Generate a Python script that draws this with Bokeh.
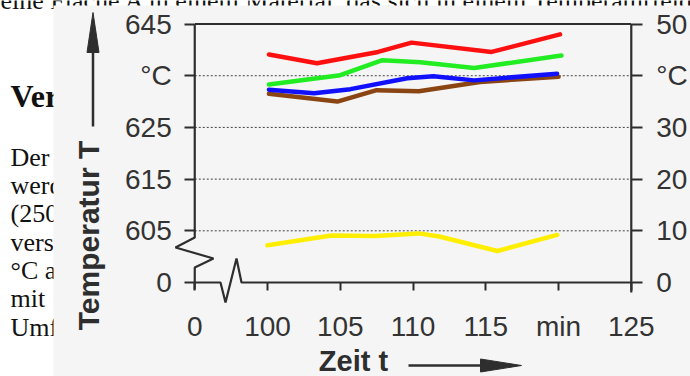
import numpy as np
from bokeh.plotting import figure
from bokeh.models import Range1d, LinearAxis, FixedTicker
from bokeh.core.properties import value
from bokeh.embed import file_html
from bokeh.resources import INLINE

# ---------------- data ----------------
# time axis (min); the first tick is labelled "0" after an axis break
x_ticks = [95, 100, 105, 110, 115, 120, 125]
x_tick_labels = ["0", "100", "105", "110", "115", "min", "125"]

# left axis (°C) shown with a break: 0 | 605 ... 645
left_offset = 595
left_tick_pos = [0, 10, 20, 30, 40, 50]
left_tick_labels = ["0", "605", "615", "625", "°C", "645"]
# right axis (°C)
right_tick_pos = [0, 10, 20, 30, 40, 50]
right_tick_labels = ["0", "10", "20", "30", "°C", "50"]
grid_levels = [10, 20, 30, 40]

# curves read on the left axis (°C)
red_t = [100.1, 103.4, 107.6, 109.9, 115.4, 120.1]
red_T = [639.1, 637.4, 639.6, 641.4, 639.6, 643.0]
green_t = [100.1, 105.0, 107.9, 110.5, 114.2, 120.2]
green_T = [633.3, 635.1, 638.0, 637.6, 636.5, 638.9]
blue_t = [100.1, 103.2, 105.7, 109.6, 111.4, 114.2, 119.9]
blue_T = [632.3, 631.6, 632.4, 634.5, 634.9, 634.1, 635.4]
brown_t = [100.1, 104.8, 107.5, 110.4, 114.6, 120.0]
brown_T = [631.5, 630.0, 632.2, 632.0, 633.8, 634.8]
# curve read on the right axis (°C)
yellow_t = [100.0, 104.4, 107.4, 110.4, 111.8, 115.8, 119.9]
yellow_T = [7.2, 9.1, 9.0, 9.5, 8.9, 6.1, 9.2]

# ---------------- layout helpers (pixel -> data) ----------------
W, H = 690, 376
XR = (81.65, 129.07)
YR = (-18.18, 54.55)


def px(x):
    return XR[0] + x * (XR[1] - XR[0]) / W


def py(y):
    return YR[1] - y * (YR[1] - YR[0]) / H


INK = "#2e2e2e"
SANS = "Liberation Sans"
SERIF = "Liberation Serif"

p = figure(width=W, height=H, x_range=Range1d(*XR), y_range=Range1d(*YR),
           x_axis_type=None, y_axis_type=None, toolbar_location=None,
           output_backend="svg", min_border=0, outline_line_color=None,
           background_fill_color="white", border_fill_color="white")

# ---------- surrounding page text (partly hidden by the figure scan) ----------
p.text(x=[px(0)], y=[py(0)], text=["eine Fläche A in einem Material, das sich in einem Temperaturfeld"],
       text_font=value(SERIF), text_font_size="26px", text_color="#111",
       text_baseline="middle", text_align="left")
p.text(x=[px(10)], y=[py(95)], text=["Ver"], text_font=value(SERIF), text_font_style="bold",
       text_font_size="32px", text_color="#111", text_baseline="middle")
side_lines = ["Der", "werd", "(250", "vers", "°C a", "mit", "Umf"]
side_y = [157, 185, 213, 242, 270, 298, 327]
p.text(x=[px(10)] * len(side_lines), y=[py(v) for v in side_y], text=side_lines,
       text_font=value(SERIF), text_font_size="26px", text_color="#111",
       text_baseline="middle")

# scanned figure background
p.quad(left=[px(53)], right=[px(W)], top=[py(5)], bottom=[py(H)],
       fill_color="#f5f5f5", line_color=None)

# ---------- grid ----------
p.segment(x0=[x_ticks[0]] * len(grid_levels), x1=[x_ticks[-1]] * len(grid_levels),
          y0=grid_levels, y1=grid_levels, line_color="#444", line_width=1,
          line_dash="2 2")

# ---------- axis lines with breaks ----------
lw = 2.2
p.line([x_ticks[0], x_ticks[-1]], [50, 50], line_color=INK, line_width=lw)
p.line([x_ticks[-1], x_ticks[-1]], [50, py(292)], line_color=INK, line_width=lw)
p.line([x_ticks[0], x_ticks[0], px(175), px(213), x_ticks[0], x_ticks[0]],
       [50, py(237), py(247), py(258), py(267), py(289)], line_color=INK, line_width=lw)
p.line([x_ticks[0], px(220), px(225), px(236), px(241), x_ticks[-1]],
       [0, 0, py(302), py(258), 0, 0], line_color=INK, line_width=lw)

# ---------- curves ----------
def curve(t, T, color, off):
    p.line(t, [v - off for v in T], line_color=color, line_width=4.5,
           line_join="round", line_cap="round")

curve(brown_t, brown_T, "#8b4513", left_offset)
curve(blue_t, blue_T, "#1010ff", left_offset)
curve(green_t, green_T, "#22ec22", left_offset)
curve(red_t, red_T, "#ff1010", left_offset)
curve(yellow_t, yellow_T, "#ffee00", 0)

# ---------- axes (ticks + labels) ----------
common = dict(axis_line_color=None, major_tick_in=0, major_tick_line_width=2,
              major_tick_line_color=INK, minor_tick_line_color=None,
              major_label_text_font=SANS, major_label_text_font_size="28px",
              major_label_text_color="#333")

yl = LinearAxis(fixed_location=x_ticks[0], ticker=FixedTicker(ticks=left_tick_pos),
                major_label_overrides=dict(zip(left_tick_pos, left_tick_labels)),
                major_tick_out=10, major_label_standoff=13, **common)
p.add_layout(yl, "left")

yr = LinearAxis(fixed_location=x_ticks[-1], ticker=FixedTicker(ticks=right_tick_pos),
                major_label_overrides=dict(zip(right_tick_pos, right_tick_labels)),
                major_tick_out=11, major_label_standoff=14, **common)
p.add_layout(yr, "right")

xb = LinearAxis(fixed_location=0, ticker=FixedTicker(ticks=x_ticks),
                major_label_overrides=dict(zip(x_ticks, x_tick_labels)),
                major_tick_out=8, major_label_standoff=20, **common)
p.add_layout(xb, "below")

# ---------- axis titles with arrows ----------
p.text(x=[px(88)], y=[py(235)], text=["Temperatur T"], angle=np.pi / 2,
       text_font=value(SANS), text_font_style="bold", text_font_size="30px",
       text_color=INK, text_align="center", text_baseline="middle")
p.line([px(92.5), px(92.5)], [py(126), py(48)], line_color=INK, line_width=2.5)
p.patch([px(86.5), px(92.5), px(98.5)], [py(52), py(12), py(52)], fill_color=INK, line_color=INK)

p.text(x=[px(353)], y=[py(360)], text=["Zeit t"],
       text_font=value(SANS), text_font_style="bold", text_font_size="29px",
       text_color=INK, text_align="center", text_baseline="middle")
p.line([px(408), px(484)], [py(365), py(365)], line_color=INK, line_width=2.5)
p.patch([px(480), px(521), px(480)], [py(358.5), py(365), py(371.5)], fill_color=INK, line_color=INK)

open("out.html", "w").write(file_html(p, INLINE))
